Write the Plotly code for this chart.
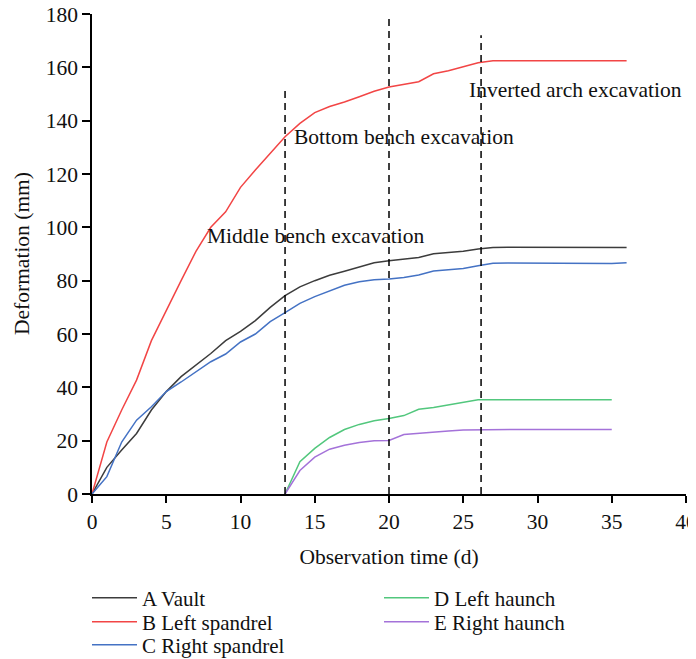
import plotly.graph_objects as go

days_long = list(range(0, 37))
vault = [0, 10, 16.5, 22.7, 31.5, 38.4, 44, 48.4, 52.7, 57.5, 61, 65, 70, 74.4,
         77.7, 80, 82, 83.5, 85.2, 86.7, 87.5, 88.2, 88.7, 90.1, 90.5, 91, 91.9, 92.4,
         92.5, 92.5, 92.5, 92.5, 92.5, 92.4, 92.4, 92.4, 92.4]
left_spandrel = [0, 19.5, 31.5, 42.7, 57.5, 69, 80, 91, 100, 105.8, 115, 121.5, 127.7, 134,
                 139, 143, 145.3, 147, 149, 151, 152.6, 153.6, 154.6, 157.6, 158.7, 160.2, 161.7, 162.5,
                 162.5, 162.5, 162.5, 162.5, 162.5, 162.5, 162.5, 162.5, 162.5]
right_spandrel = [0, 6.5, 19.5, 27.7, 32.7, 38.4, 42, 45.9, 49.6, 52.5, 57, 60, 64.6, 68,
                  71.5, 74, 76.2, 78.3, 79.6, 80.3, 80.6, 81.2, 82.1, 83.6, 84.1, 84.6, 85.6, 86.5,
                  86.6, 86.6, 86.6, 86.6, 86.6, 86.6, 86.5, 86.4, 86.7]
days_short = list(range(13, 36))
left_haunch = [0, 12.1, 17.1, 21.2, 24.2, 26.1, 27.5, 28.3, 29.4, 31.8, 32.4, 33.3, 34.3, 35.3,
               35.3, 35.3, 35.3, 35.3, 35.3, 35.4, 35.4, 35.3, 35.3]
right_haunch = [0, 8.8, 13.8, 16.8, 18.3, 19.3, 20, 20.1, 22.3, 22.8, 23.1, 23.6, 24, 24.1,
                24.1, 24.1, 24.2, 24.2, 24.2, 24.2, 24.1, 24.3, 24.2]

stage_days = [13, 20, 26.2]
stage_tops = [153, 178.5, 172]
stage_labels = ["Middle bench excavation", "Bottom bench excavation", "Inverted arch excavation"]
label_x = [7.6, 13.5, 25.25]
label_y = [96.7, 133.9, 151.5]

x_title = "Observation time (d)"
y_title = "Deformation (mm)"

FONT = "Liberation Serif"
FS = 21.5
OFF = 8  # page body margin
W, H = 696 - OFF, 659 - OFF
ML, MR, MT, MB = 92 - OFF, 10, 14 - OFF, 165
fig = go.Figure()
# name, x, y, colour, legend id, legend position (window px)
series = [
    ("A Vault", days_long, vault, "#3c3c3c", "legend", (92, 598)),
    ("B Left spandrel", days_long, left_spandrel, "#f24545", "legend2", (92, 622)),
    ("C Right spandrel", days_long, right_spandrel, "#4472c4", "legend3", (92, 645)),
    ("D Left haunch", days_short, left_haunch, "#52c77d", "legend4", (384, 598)),
    ("E Right haunch", days_short, right_haunch, "#a472d9", "legend5", (384, 622)),
]
legends = {}
for name, xs, ys, col, lg, (px, py) in series:
    fig.add_trace(go.Scatter(x=xs, y=ys, mode="lines", name=name,
                             line=dict(color=col, width=1.5), legend=lg))
    legends[lg] = dict(xref="container", yref="container", x=(px - OFF - 5) / W,
                       y=1 - (py - OFF) / H,
                       xanchor="left", yanchor="middle", orientation="v", itemwidth=45,
                       bgcolor="rgba(0,0,0,0)", font=dict(family=FONT, size=21, color="#111"))

for d, top in zip(stage_days, stage_tops):
    fig.add_shape(type="line", xref="x", yref="y", x0=d, x1=d, y0=0, y1=top,
                  line=dict(color="black", width=1.5, dash="7px,5px"))
for t, lx, ly in zip(stage_labels, label_x, label_y):
    fig.add_annotation(x=lx, y=ly, text=t, showarrow=False, xanchor="left", yanchor="middle",
                       font=dict(family=FONT, size=FS, color="#111"))

# y-axis title as rotated text, centred 70 px left of the axis line
plot_w = W - ML - MR
fig.add_annotation(xref="paper", yref="paper", x=-70 / plot_w, y=0.5, text=y_title,
                   textangle=-90, showarrow=False, xanchor="center", yanchor="middle",
                   font=dict(family=FONT, size=FS, color="#111"))

axis_common = dict(showline=True, linecolor="black", linewidth=1.5, ticks="outside",
                   tickwidth=1.5, tickcolor="black", showgrid=False, zeroline=False,
                   ticklabeloverflow="allow",
                   tickfont=dict(family=FONT, size=FS, color="#111"))
fig.update_layout(
    template="none",
    width=W, height=H,
    margin=dict(l=ML, r=MR, t=MT, b=MB, autoexpand=False),
    plot_bgcolor="white", paper_bgcolor="white",
    font=dict(family=FONT, size=FS, color="#111"),
    xaxis=dict(range=[0, 40], dtick=5, ticklen=7,
               title=dict(text=x_title, font=dict(family=FONT, size=FS), standoff=16),
               **axis_common),
    yaxis=dict(range=[0, 180], dtick=20, ticklen=8, **axis_common),
    showlegend=True,
    **legends,
)
fig.write_html("out.html")
